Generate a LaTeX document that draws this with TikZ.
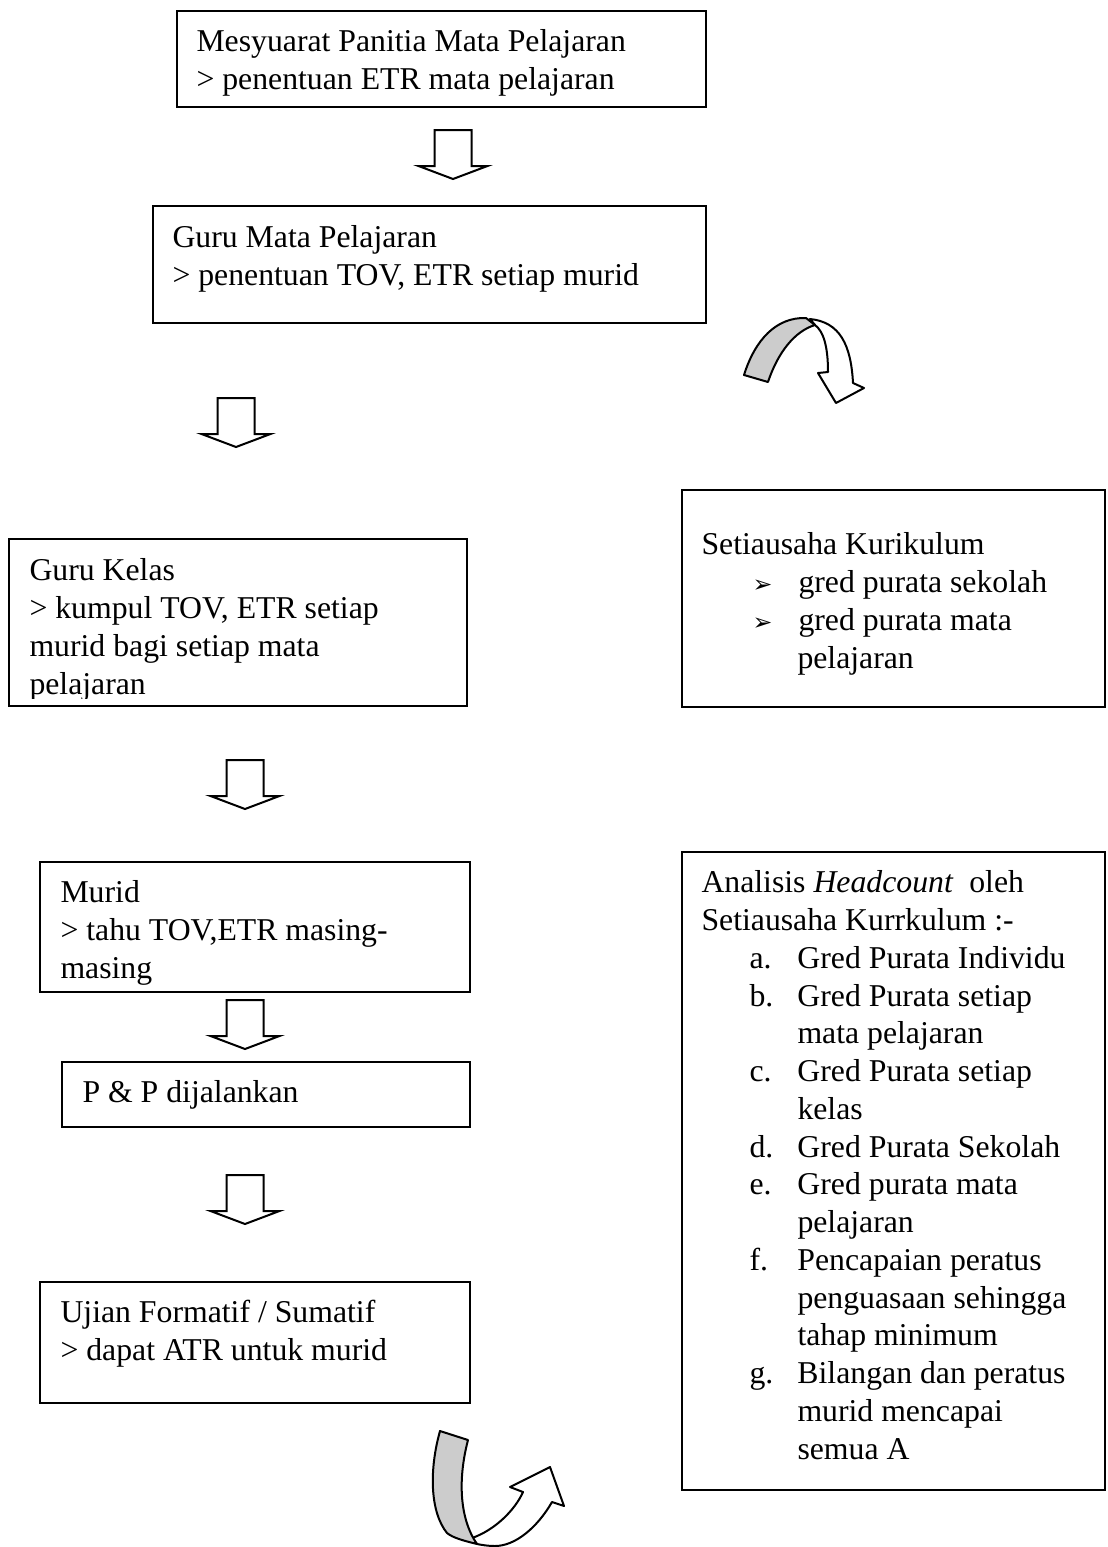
\documentclass[tikz,border=0pt]{standalone}
\usepackage{fontspec}
\setmainfont{Liberation Serif}
\newfontfamily\dingfont{DejaVu Sans}
\usetikzlibrary{fit,calc}
\definecolor{bandgray}{RGB}{204,204,204}
\newdimen\pxu \pxu=0.4pt
\newcommand{\bodyfont}{\fontsize{12.7pt}{15.1pt}\selectfont}
\newcommand{\tip}{\makebox[46\pxu][l]{\dingfont\fontsize{9.5pt}{10pt}\selectfont ➢}}
\newcommand{\itm}[1]{\hspace*{48\pxu}\makebox[48\pxu][l]{#1}}
\newcommand{\cont}{\hspace*{96\pxu}}
% block arrow pointing down, #1 = top centre
\newcommand{\blockdown}[1]{%
  \draw[blockarrow] ($(#1)+(-18.5,0)$) -- ++(37,0) -- ++(0,36) -- ++(16,0) -- ($(#1)+(0,49)$) -- ($(#1)+(-34.5,36)$) -- ++(16,0) -- cycle;}

\begin{document}
\begin{tikzpicture}[x=0.4pt,y=-0.4pt,
    box/.style={draw,line width=0.8pt,inner sep=0pt},
    txt/.style={anchor=north west,inner sep=0pt,align=left,font=\bodyfont},
    blockarrow/.style={draw,fill=white,line width=0.8pt,line join=miter},
    band/.style={draw,line width=0.8pt,line join=round}]
  \useasboundingbox (0,0) rectangle (1107,1547);

  % left column
  \node[box,fit={(177,11) (706,107)}] (panitia) {};
  \node[txt] (panitiatxt) at ([shift={(20,15)}]panitia.north west) {\strut Mesyuarat Panitia Mata Pelajaran\\> penentuan ETR mata pelajaran};
  \coordinate (a1) at (453,130); \blockdown{a1}

  \node[box,fit={(153,206) (706,323)}] (gurump) {};
  \node[txt] (gurumptxt) at ([shift={(20,16)}]gurump.north west) {\strut Guru Mata Pelajaran\\> penentuan TOV, ETR setiap murid};
  \coordinate (a2) at (236,398); \blockdown{a2}

  \node[box,fit={(9,539) (467,706)}] (gurukelas) {};
  \begin{scope}
    \clip (9,539) rectangle (467,698);
    \node[txt] (gurukelastxt) at ([shift={(21,16)}]gurukelas.north west) {\strut Guru Kelas\\> kumpul TOV, ETR setiap\\murid bagi setiap mata\\pelajaran};
  \end{scope}
  \coordinate (a3) at (245,760); \blockdown{a3}

  \node[box,fit={(40,862) (470,992)}] (murid) {};
  \node[txt] (muridtxt) at ([shift={(21,15)}]murid.north west) {\strut Murid\\> tahu TOV,ETR masing-\\masing};
  \coordinate (a4) at (245,1000); \blockdown{a4}

  \node[box,fit={(62,1062) (470,1127)}] (pnp) {};
  \node[txt] (pnptxt) at ([shift={(21,15)}]pnp.north west) {\strut P \& P dijalankan};
  \coordinate (a5) at (245,1175); \blockdown{a5}

  \node[box,fit={(40,1282) (470,1403)}] (ujian) {};
  \node[txt] (ujiantxt) at ([shift={(21,15)}]ujian.north west) {\strut Ujian Formatif / Sumatif\\> dapat ATR untuk murid};

  % right column
  \node[box,fit={(682,490) (1105,707)}] (setiausaha) {};
  \node[txt] (setiausahatxt) at ([shift={(20,39)}]setiausaha.north west) {\strut Setiausaha Kurikulum\\
    \hspace*{51\pxu}\tip gred purata sekolah\\
    \hspace*{51\pxu}\tip gred purata mata\\
    \cont pelajaran};

  \node[box,fit={(682,852) (1105,1490)}] (analisis) {};
  \node[txt] (analisistxt) at ([shift={(20,15)}]analisis.north west) {\strut Analisis \textit{Headcount}\ \ oleh\\
    Setiausaha Kurrkulum :-\\
    \itm{a.}Gred Purata Individu\\
    \itm{b.}Gred Purata setiap\\
    \cont mata pelajaran\\
    \itm{c.}Gred Purata setiap\\
    \cont kelas\\
    \itm{d.}Gred Purata Sekolah\\
    \itm{e.}Gred purata mata\\
    \cont pelajaran\\
    \itm{f.}Pencapaian peratus\\
    \cont penguasaan sehingga\\
    \cont tahap minimum\\
    \itm{g.}Bilangan dan peratus\\
    \cont murid mencapai\\
    \cont semua A};

  % curved arrows
  \path[band,fill=white] (810,319) .. controls (840,322) and (851,345) .. (853,383) -- (864,388) -- (836,403) -- (818,373) -- (828,372) .. controls (828,345) and (823,331) .. (815,325) -- cycle;
  \path[band,fill=bandgray] (744,375) .. controls (755,340) and (776,317) .. (806,318) -- (815,325) .. controls (795,331) and (778,352) .. (768,382) -- cycle;

  \path[band,fill=white] (472,1538) .. controls (495,1530) and (515,1510) .. (523,1492) -- (510,1487) -- (550,1467) -- (564,1506) -- (552,1502) .. controls (537,1528) and (515,1546) .. (495,1546) .. controls (488,1546) and (482,1545) .. (477,1544) -- cycle;
  \path[band,fill=bandgray] (440,1431) -- (468,1440) .. controls (458,1478) and (459,1518) .. (477,1544) .. controls (465,1541) and (453,1538) .. (447,1533) .. controls (430,1512) and (429,1470) .. (440,1431) -- cycle;
\end{tikzpicture}
\end{document}
